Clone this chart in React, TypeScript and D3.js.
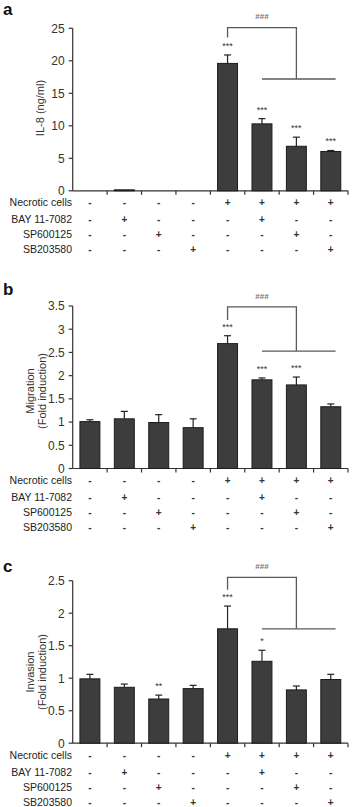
import React from "react";
import * as d3 from "d3";

// treatment columns (one per bar)
const columns = ["c1", "c2", "c3", "c4", "c5", "c6", "c7", "c8"];
const rowLabels = ["Necrotic cells", "BAY 11-7082", "SP600125", "SB203580"];
const necrotic = ["-", "-", "-", "-", "+", "+", "+", "+"];
const bay = ["-", "+", "-", "-", "-", "+", "-", "-"];
const sp = ["-", "-", "+", "-", "-", "-", "+", "-"];
const sb = ["-", "-", "-", "+", "-", "-", "-", "+"];
const signRows = [necrotic, bay, sp, sb];

// panel a: IL-8
const il8Mean = [0, 0.15, 0, 0, 19.6, 10.3, 6.85, 6.05];
const il8Err = [0, 0, 0, 0, 1.3, 0.8, 1.4, 0.15];
const il8Stars = ["", "", "", "", "***", "***", "***", "***"];
const il8Ticks = [0, 5, 10, 15, 20, 25];

// panel b: migration
const migMean = [1.01, 1.07, 0.99, 0.88, 2.69, 1.91, 1.8, 1.33];
const migErr = [0.04, 0.16, 0.17, 0.19, 0.17, 0.04, 0.17, 0.06];
const migStars = ["", "", "", "", "***", "***", "***", ""];
const migTicks = [0, 0.5, 1, 1.5, 2, 2.5, 3, 3.5];

// panel c: invasion
const invMean = [0.99, 0.86, 0.68, 0.84, 1.76, 1.26, 0.82, 0.98];
const invErr = [0.07, 0.05, 0.06, 0.05, 0.35, 0.17, 0.06, 0.08];
const invStars = ["", "", "**", "", "***", "*", "", ""];
const invTicks = [0, 0.5, 1, 1.5, 2, 2.5];

// bracket levels (data units): top line, left leg end, lower line
const il8Bracket = [25.1, 23.6, 17.2];
const migBracket = [3.48, 3.2, 2.53];
const invBracket = [2.55, 2.36, 1.76];

const panels = [
  { letter: "a", title: ["IL-8 (ng/ml)"], mean: il8Mean, err: il8Err, stars: il8Stars, ticks: il8Ticks, bracket: il8Bracket },
  { letter: "b", title: ["Migration", "(Fold induction)"], mean: migMean, err: migErr, stars: migStars, ticks: migTicks, bracket: migBracket },
  { letter: "c", title: ["Invasion", "(Fold induction)"], mean: invMean, err: invErr, stars: invStars, ticks: invTicks, bracket: invBracket },
];

const layout = [
  { top: 28.3, titleY: 108, letterY: 15 },
  { top: 306, titleY: 391, letterY: 295 },
  { top: 580.7, titleY: 672, letterY: 571.5 },
];

const plotH = 162.5;
const left = 72.7;
const right = 348;
const rowOffsets = [12, 29, 44, 59];
const font = "Liberation Sans, Arial, sans-serif";

const x = d3.scaleBand().domain(columns).range([left, right]).padding(0);
const barW = x.bandwidth() * 0.58;
const cx = (i: number) => x(columns[i])! + x.bandwidth() / 2;

function Panel({ p, l }: { p: (typeof panels)[0]; l: (typeof layout)[0] }) {
  const ymax = p.ticks[p.ticks.length - 1];
  const y = d3.scaleLinear().domain([0, ymax]).range([l.top + plotH, l.top]);
  const base = y(0);
  const [bTop, bLeft, bLow] = p.bracket;
  const xL = cx(4);
  const xR = cx(6);
  return (
    <g fontFamily={font}>
      <text x={3} y={l.letterY} fontSize={17} fontWeight="bold" fill="#111">
        {p.letter}
      </text>
      {/* y title */}
      {p.title.map((t, k) => {
        const n = p.title.length;
        const tx = n === 1 ? 40 : 30 + k * 11.5;
        return (
          <text
            key={t}
            transform={`translate(${tx},${l.titleY}) rotate(-90)`}
            textAnchor="middle"
            dominantBaseline="central"
            fontSize={11}
            fill="#333"
          >
            {t}
          </text>
        );
      })}
      {/* y axis */}
      <line x1={left} x2={left} y1={l.top} y2={base} stroke="#333" strokeWidth={1.2} />
      {p.ticks.map((t) => (
        <g key={t}>
          <line x1={left - 4} x2={left} y1={y(t)} y2={y(t)} stroke="#333" strokeWidth={1.2} />
          <text x={left - 8} y={y(t)} dy="0.36em" textAnchor="end" fontSize={12} fill="#333">
            {String(t)}
          </text>
        </g>
      ))}
      {/* x axis */}
      <line x1={left} x2={right} y1={base} y2={base} stroke="#333" strokeWidth={1.2} />
      {columns.map((c) => (
        <line key={c} x1={x(c)! + x.bandwidth()} x2={x(c)! + x.bandwidth()} y1={base} y2={base + 4} stroke="#333" strokeWidth={1.2} />
      ))}
      {/* bars */}
      {p.mean.map((m, i) => (
        <g key={i}>
          {p.err[i] > 0 && (
            <g stroke="#222" strokeWidth={1.2}>
              <line x1={cx(i)} x2={cx(i)} y1={y(m)} y2={y(m + p.err[i])} />
              <line x1={cx(i) - 3.5} x2={cx(i) + 3.5} y1={y(m + p.err[i])} y2={y(m + p.err[i])} />
            </g>
          )}
          {m > 0 && (
            <rect
              x={cx(i) - barW / 2}
              y={y(m)}
              width={barW}
              height={base - y(m)}
              fill="#3d3d3d"
              stroke="#1c1c1c"
              strokeWidth={1}
            />
          )}
          {p.stars[i] && (
            <text x={cx(i)} y={y(m + p.err[i]) - 11} dy="0.55em" textAnchor="middle" fontSize={9} fill="#333">
              {p.stars[i]}
            </text>
          )}
        </g>
      ))}
      {/* bracket */}
      <g stroke="#5a5a5a" strokeWidth={1.3} fill="none">
        <polyline points={`${xL},${y(bLeft)} ${xL},${y(bTop)} ${xR},${y(bTop)} ${xR},${y(bLow)}`} />
        <line x1={cx(5)} x2={cx(7) + x.bandwidth() * 0.14} y1={y(bLow)} y2={y(bLow)} />
      </g>
      <text x={(xL + xR) / 2} y={y(bTop) - 11} dy="0.35em" textAnchor="middle" fontSize={8} fontWeight="bold" fill="#777">
        ###
      </text>
      {/* treatment table */}
      {rowLabels.map((r, k) => (
        <g key={r}>
          <text x={72} y={base + rowOffsets[k]} dy="0.35em" textAnchor="end" fontSize={10.5} fill="#222">
            {r}
          </text>
          {signRows[k].map((s, i) => (
            <text key={i} x={cx(i)} y={base + rowOffsets[k]} dy="0.35em" textAnchor="middle" fontSize={10} fontWeight="bold" fill="#333">
              {s}
            </text>
          ))}
        </g>
      ))}
    </g>
  );
}

export default function App() {
  return (
    <svg width={356} height={807} style={{ position: "absolute", left: 0, top: 0, background: "#fff" }}>
      <rect width={356} height={807} fill="#fff" />
      {panels.map((p, k) => (
        <Panel key={p.letter} p={p} l={layout[k]} />
      ))}
    </svg>
  );
}
